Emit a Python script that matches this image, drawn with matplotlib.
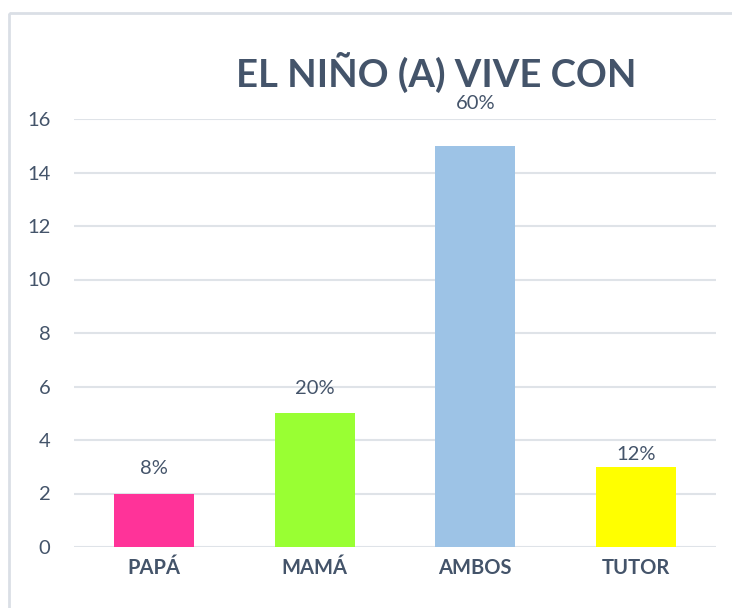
import matplotlib
matplotlib.use("Agg")
import matplotlib.pyplot as plt
from matplotlib.patches import Rectangle

categories = ["PAPÁ", "MAMÁ", "AMBOS", "TUTOR"]
values = [2, 5, 15, 3]
labels = ["8%", "20%", "60%", "12%"]
colors = ["#FF3399", "#99FF33", "#9DC3E6", "#FFFF00"]
yticks = [0, 2, 4, 6, 8, 10, 12, 14, 16]
title = "EL NIÑO (A) VIVE CON"

plt.rcParams['font.family'] = ['Lato', 'DejaVu Sans']
W, H = 732, 608
fig = plt.figure(figsize=(W / 100, H / 100), dpi=100)
txt = "#44546A"

# outer frame (chart area border)
fig.patches.append(Rectangle((9 / W, 1 - 13 / H), 2, -2, transform=fig.transFigure,
                             fill=False, edgecolor="#DADFE6", linewidth=2))

ax = fig.add_axes([74 / W, 1 - 547 / H, (716 - 74) / W, (547 - 119) / H])
x = list(range(len(categories)))
ax.bar(x, values, width=0.5, color=colors, zorder=3)
ax.set_xlim(-0.5, len(categories) - 0.5)
ax.set_ylim(0, 16)
ax.set_yticks(yticks)
ax.set_yticklabels([str(t) for t in yticks], fontsize=14.5, color=txt)
ax.set_xticks(x)
ax.set_xticklabels(categories, fontsize=14.5, fontweight="bold", color=txt)
ax.tick_params(axis="both", length=0)
ax.tick_params(axis="y", pad=17)
ax.tick_params(axis="x", pad=8)
for s in ax.spines.values():
    s.set_visible(False)
ax.grid(axis="y", color="#DFE3E8", linewidth=1.5, zorder=0)
ax.set_axisbelow(True)

offsets = [12, 12, 24, 3]
for xi, v, lab, off in zip(x, values, labels, offsets):
    ax.annotate(lab, (xi, v), xytext=(0, off), textcoords="offset points",
                ha="center", va="bottom", fontsize=14.5, color=txt)

fig.text(436 / W, 1 - 72 / H, title, ha="center", va="center", fontsize=27.5,
         fontweight="bold", color=txt)

fig.savefig("out.png", dpi=100)
